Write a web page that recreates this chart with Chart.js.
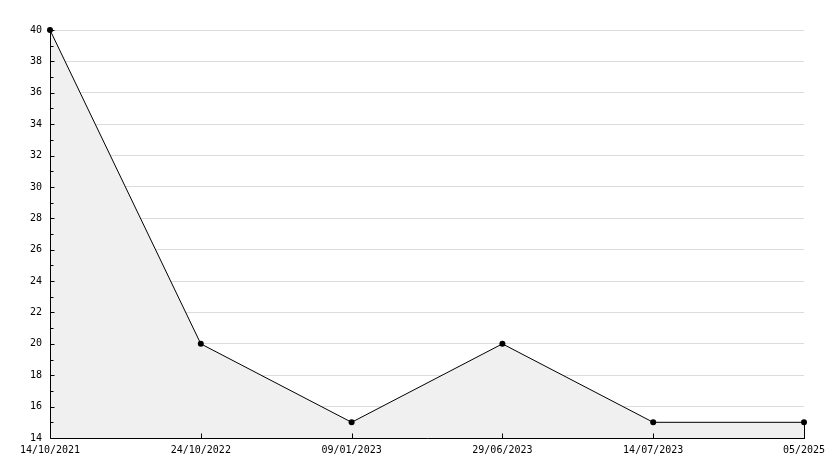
<!DOCTYPE html>
<html lang="en">
<head>
  <meta charset="utf-8" />
  <title>Value over time</title>
  <script src="https://cdn.jsdelivr.net/npm/chart.js@4.4.1/dist/chart.umd.min.js"></script>
  <style>
    html, body { margin: 0; padding: 0; background: #fff; }
    #wrap { width: 834px; height: 468px; }
  </style>
</head>
<body>
<div id="wrap">
  <canvas id="myChart" width="834" height="468"></canvas>
</div>

<script>
// chart data
const dateLabels = ['14/10/2021', '24/10/2022', '09/01/2023', '29/06/2023', '14/07/2023', '05/2025'];
const values = [40, 20, 15, 20, 15, 15];
const yMin = 14;
const yMax = 40;

// axis lines + small inside tick marks (major every 2, minor every 1)
const insideTicks = {
  id: 'insideTicks',
  afterDatasetsDraw(chart) {
    const ctx = chart.ctx;
    const xs = chart.scales.x;
    const ys = chart.scales.y;
    const area = chart.chartArea;
    const left = Math.round(area.left) + 0.5;
    const bottom = Math.round(area.bottom) + 0.5;
    ctx.save();
    ctx.strokeStyle = '#000';
    ctx.lineWidth = 1;
    ctx.beginPath();
    // axes
    ctx.moveTo(left, Math.round(area.top));
    ctx.lineTo(left, bottom);
    ctx.lineTo(Math.round(area.right) + 1, bottom);
    for (let v = yMin; v <= yMax; v++) {
      const y = Math.round(ys.getPixelForValue(v)) + 0.5;
      const len = (v % 2 === 0) ? 4 : 3;
      ctx.moveTo(left, y);
      ctx.lineTo(left + len, y);
    }
    for (let i = 1; i < dateLabels.length; i++) {
      const x = Math.round(xs.getPixelForValue(i)) + 0.5;
      ctx.moveTo(x, bottom);
      ctx.lineTo(x, bottom - 5);
    }
    // closing edge of the filled area at the last point
    const last = values.length - 1;
    const lx = Math.round(xs.getPixelForValue(last)) + 0.5;
    ctx.moveTo(lx, ys.getPixelForValue(values[last]));
    ctx.lineTo(lx, bottom);
    ctx.stroke();
    ctx.restore();
  }
};

window.addEventListener('load', () => {
  const ctx = document.getElementById('myChart').getContext('2d');
  Chart.defaults.font.family = '"DejaVu Sans Mono", monospace';
  Chart.defaults.font.size = 10;
  Chart.defaults.color = '#000';

  new Chart(ctx, {
    type: 'line',
    data: {
      labels: dateLabels,
      datasets: [{
        data: values,
        borderColor: '#000',
        borderWidth: 1,
        backgroundColor: '#f0f0f0',
        fill: 'start',
        tension: 0,
        clip: false,
        pointRadius: 3,
        pointBackgroundColor: '#000',
        pointBorderColor: '#000',
        pointBorderWidth: 0
      }]
    },
    options: {
      responsive: false,
      animation: false,
      layout: { padding: { top: 30, right: 30, left: 0, bottom: 0 } },
      plugins: {
        legend: { display: false },
        tooltip: { enabled: false }
      },
      scales: {
        x: {
          offset: false,
          grid: { display: false, drawTicks: false },
          border: { display: false },
          ticks: { padding: 6, maxRotation: 0, autoSkip: false },
          afterFit(scale) { scale.height = 30; }
        },
        y: {
          min: yMin,
          max: yMax,
          grid: { color: '#dcdcdc', drawTicks: false },
          border: { display: false },
          ticks: { stepSize: 2, padding: 8 },
          afterFit(scale) { scale.width = 50; }
        }
      }
    },
    plugins: [insideTicks]
  });
});
</script>
</body>
</html>
